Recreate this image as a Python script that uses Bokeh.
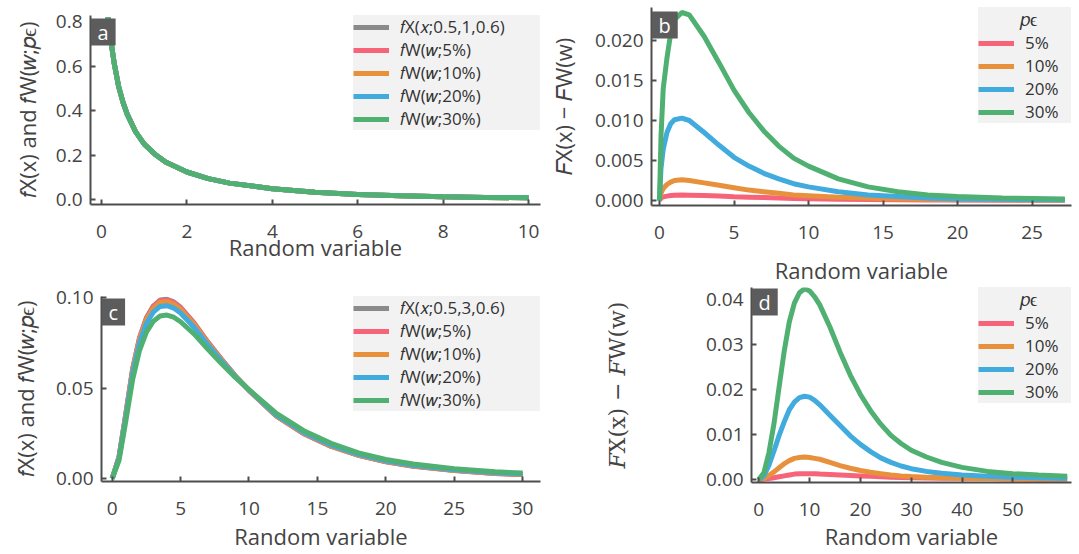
from bokeh.plotting import figure
from bokeh.layouts import row, column
from bokeh.models import Range1d, FixedTicker, PrintfTickFormatter, Label
from bokeh.embed import file_html
from bokeh.resources import INLINE

# ---------------- data ----------------
# panel a : densities, parameters (0.5, 1, 0.6)
a_x = [0.15, 0.2, 0.3, 0.4, 0.5, 0.6, 0.8, 1.0, 1.25, 1.5, 2.0, 2.5, 3.0, 4.0, 5.0, 6.0, 7.0, 8.0, 9.0, 10.0]
a_fx = [0.82, 0.74, 0.61, 0.51, 0.44, 0.385, 0.305, 0.25, 0.205, 0.17, 0.125, 0.095, 0.075, 0.05, 0.034, 0.024, 0.018, 0.014, 0.011, 0.009]
a_fw5 = [0.82, 0.74, 0.61, 0.51, 0.44, 0.385, 0.305, 0.25, 0.205, 0.17, 0.125, 0.095, 0.075, 0.05, 0.034, 0.024, 0.018, 0.014, 0.011, 0.009]
a_fw10 = [0.82, 0.74, 0.61, 0.51, 0.44, 0.385, 0.305, 0.25, 0.205, 0.17, 0.125, 0.095, 0.075, 0.05, 0.034, 0.024, 0.018, 0.014, 0.011, 0.009]
a_fw20 = [0.82, 0.74, 0.61, 0.51, 0.44, 0.385, 0.305, 0.25, 0.205, 0.17, 0.125, 0.095, 0.075, 0.05, 0.034, 0.024, 0.018, 0.014, 0.011, 0.009]
a_fw30 = [0.82, 0.74, 0.61, 0.51, 0.44, 0.385, 0.305, 0.25, 0.205, 0.17, 0.125, 0.095, 0.075, 0.05, 0.034, 0.024, 0.018, 0.014, 0.011, 0.009]

# panel b : F_X - F_W, parameters (0.5, 1, 0.6)
b_x = [0, 0.1, 0.25, 0.5, 0.75, 1, 1.5, 2, 3, 4, 5, 6, 7, 8, 9, 10, 12, 14, 16, 18, 20, 23, 27.2]
b_d5 = [0, 0.0003, 0.00045, 0.00055, 0.00062, 0.00066, 0.00068, 0.00067, 0.00062, 0.00055, 0.00048, 0.00042, 0.00036, 0.0003, 0.00026, 0.00022, 0.00016, 0.00012, 0.00009, 0.00007, 0.00005, 0.00004, 0.00003]
b_d10 = [0, 0.0009, 0.0015, 0.0020, 0.0023, 0.0025, 0.0026, 0.0025, 0.0022, 0.0019, 0.0016, 0.0013, 0.0011, 0.0009, 0.0007, 0.0006, 0.0004, 0.0003, 0.0002, 0.00015, 0.0001, 0.00008, 0.00005]
b_d20 = [0, 0.004, 0.0064, 0.0085, 0.0096, 0.0101, 0.0103, 0.0100, 0.0085, 0.0069, 0.0054, 0.0043, 0.0034, 0.0027, 0.0021, 0.0017, 0.0011, 0.0007, 0.0005, 0.0003, 0.0002, 0.00015, 0.0001]
b_d30 = [0, 0.0080, 0.0140, 0.0178, 0.0209, 0.0226, 0.0235, 0.0232, 0.0205, 0.0172, 0.0138, 0.0110, 0.0087, 0.0068, 0.0053, 0.0043, 0.0027, 0.0017, 0.0011, 0.0007, 0.0005, 0.0003, 0.0002]

# panel c : densities, parameters (0.5, 3, 0.6)
c_x = [0, 0.5, 1, 1.5, 2, 2.5, 3, 3.5, 4, 4.5, 5, 6, 7, 8, 9, 10, 12, 14, 16, 18, 20, 22, 25, 28, 30]
c_fx = [0, 0.012, 0.036, 0.061, 0.078, 0.089, 0.0955, 0.0988, 0.0992, 0.0978, 0.0948, 0.0860, 0.0755, 0.0660, 0.0568, 0.0488, 0.0345, 0.0248, 0.0178, 0.0128, 0.0093, 0.0068, 0.0044, 0.0028, 0.0022]
c_fw5 = [0, 0.0119, 0.0358, 0.0607, 0.0776, 0.0886, 0.0951, 0.0984, 0.0988, 0.0974, 0.0944, 0.0857, 0.0753, 0.0659, 0.0568, 0.0488, 0.0346, 0.0249, 0.0179, 0.0129, 0.0094, 0.0069, 0.0045, 0.0028, 0.0022]
c_fw10 = [0, 0.0117, 0.0354, 0.0601, 0.0769, 0.0878, 0.0942, 0.0975, 0.0979, 0.0965, 0.0936, 0.0851, 0.0749, 0.0656, 0.0567, 0.0489, 0.0347, 0.0251, 0.0181, 0.0130, 0.0095, 0.0070, 0.0046, 0.0029, 0.0023]
c_fw20 = [0, 0.0112, 0.0344, 0.0586, 0.0752, 0.0858, 0.0921, 0.0953, 0.0957, 0.0944, 0.0916, 0.0836, 0.0739, 0.0650, 0.0565, 0.0490, 0.0351, 0.0255, 0.0185, 0.0134, 0.0098, 0.0073, 0.0048, 0.0032, 0.0025]
c_fw30 = [0, 0.010, 0.032, 0.055, 0.071, 0.081, 0.087, 0.0900, 0.0905, 0.0893, 0.0868, 0.0800, 0.0715, 0.0635, 0.0560, 0.0492, 0.0360, 0.0265, 0.0195, 0.0142, 0.0105, 0.0080, 0.0054, 0.0037, 0.0030]

# panel d : F_X - F_W, parameters (0.5, 3, 0.6)
d_x = [0, 1, 2, 3, 4, 5, 6, 7, 8, 9, 10, 11, 12, 14, 16, 18, 20, 22, 24, 26, 28, 30, 33, 36, 40, 45, 50, 55, 60.7]
d_d5 = [0, 0.0001, 0.0002, 0.0004, 0.0006, 0.0008, 0.0010, 0.0012, 0.0013, 0.0013, 0.0013, 0.0013, 0.0012, 0.0011, 0.0010, 0.0009, 0.0008, 0.0007, 0.0006, 0.0005, 0.00045, 0.0004, 0.00035, 0.0003, 0.00025, 0.0002, 0.00015, 0.0001, 0.0001]
d_d10 = [0, 0.0002, 0.0009, 0.0017, 0.0026, 0.0035, 0.0042, 0.0047, 0.0049, 0.0050, 0.0049, 0.0047, 0.0045, 0.0038, 0.0031, 0.0025, 0.0020, 0.0016, 0.0013, 0.0010, 0.0008, 0.00065, 0.0005, 0.0004, 0.0003, 0.0002, 0.00015, 0.0001, 0.0001]
d_d20 = [0, 0.0008, 0.0032, 0.0064, 0.0098, 0.0128, 0.0155, 0.0172, 0.0182, 0.0185, 0.0183, 0.0176, 0.0166, 0.0143, 0.0120, 0.0097, 0.0078, 0.0062, 0.0048, 0.0038, 0.0030, 0.0024, 0.0018, 0.0014, 0.0010, 0.0007, 0.0005, 0.0004, 0.0003]
d_d30 = [0, 0.0015, 0.0060, 0.0125, 0.0206, 0.0285, 0.0350, 0.0392, 0.0415, 0.0424, 0.0419, 0.0406, 0.0388, 0.0339, 0.0283, 0.0232, 0.0189, 0.0153, 0.0123, 0.0098, 0.0080, 0.0065, 0.0050, 0.0038, 0.0027, 0.0018, 0.0013, 0.0010, 0.0007]

# ticks and labels
a_xticks = [0, 2, 4, 6, 8, 10]
a_yticks = [0.0, 0.2, 0.4, 0.6, 0.8]
b_xticks = [0, 5, 10, 15, 20, 25]
b_yticks = [0.0, 0.005, 0.010, 0.015, 0.020]
c_xticks = [0, 5, 10, 15, 20, 25, 30]
c_yticks = [0.0, 0.05, 0.10]
d_xticks = [0, 10, 20, 30, 40, 50]
d_yticks = [0.0, 0.01, 0.02, 0.03, 0.04]
pct_labels = ["5%", "10%", "20%", "30%"]
dens_labels_a = ["𝑓X(𝑥;0.5,1,0.6)"] + ["𝑓W(𝑤;%s)" % s for s in pct_labels]
dens_labels_c = ["𝑓X(𝑥;0.5,3,0.6)"] + ["𝑓W(𝑤;%s)" % s for s in pct_labels]
x_label = "Random variable"
y_label_dens = "𝑓X(x) and 𝑓W(𝑤;𝑝ϵ)"
y_label_diff = "𝐹X(x) − 𝐹W(w)"
legend_title = "𝑝ϵ"

# ---------------- styling ----------------
FONT = "Open Sans"
TXT = "#444444"
AX = "#4d4d4d"
GRAY, PINK, ORANGE, BLUE, GREEN = "#8a8a8a", "#f7647a", "#e8913d", "#40abdc", "#4fb072"
DENS_COLORS = [GRAY, PINK, ORANGE, BLUE, GREEN]
DIFF_COLORS = [PINK, ORANGE, BLUE, GREEN]


def make_fig(w, h, bl, br, bt, bb, xr, yr, xticks, yticks, yfmt, ylabel, ystand, xstand,
             ylabel_font=FONT):
    p = figure(width=w, height=h, x_range=Range1d(*xr), y_range=Range1d(*yr), title=None,
               output_backend="svg", toolbar_location=None,
               min_border_left=bl, min_border_right=br, min_border_top=bt, min_border_bottom=bb)
    p.outline_line_color = None
    p.xgrid.visible = False
    p.ygrid.visible = False
    for ax in (p.xaxis[0], p.yaxis[0]):
        ax.axis_line_color = AX
        ax.axis_line_width = 2
        ax.major_tick_line_color = AX
        ax.major_tick_line_width = 2
        ax.major_tick_in = 5
        ax.major_tick_out = 0
        ax.minor_tick_line_color = None
        ax.major_label_text_font = FONT
        ax.major_label_text_font_size = "19px"
        ax.major_label_text_color = TXT
        ax.axis_label_text_font_style = "normal"
        ax.axis_label_text_color = TXT
    p.xaxis.ticker = FixedTicker(ticks=xticks)
    p.yaxis.ticker = FixedTicker(ticks=yticks)
    p.xaxis.formatter = PrintfTickFormatter(format="%d")
    p.yaxis.formatter = PrintfTickFormatter(format=yfmt)
    p.xaxis.major_label_standoff = 20
    p.yaxis.major_label_standoff = 8
    p.yaxis.axis_label = ylabel
    p.yaxis.axis_label_text_font = ylabel_font
    p.yaxis.axis_label_text_font_size = "22px"
    p.yaxis.axis_label_standoff = ystand
    p.xaxis.axis_label = x_label
    p.xaxis.axis_label_text_font = FONT
    p.xaxis.axis_label_text_font_size = "22px"
    p.xaxis.axis_label_standoff = xstand
    return p


def add_tag(p, fh, letter, down):
    p.add_layout(Label(x=0, y=fh - down, x_units="screen", y_units="screen", text=letter,
                       text_font=FONT, text_font_size="20px", text_color="white",
                       background_fill_color="#5c5c5c", background_fill_alpha=1.0,
                       text_align="left", text_baseline="top", padding=dict(x=7, y=0)))


def style_legend(p, label_width, title=None):
    lg = p.legend[0]
    lg.location = "top_right"
    lg.background_fill_color = "#f2f2f2"
    lg.background_fill_alpha = 1.0
    lg.border_line_color = None
    lg.label_text_font = FONT
    lg.label_text_font_size = "17px"
    lg.label_text_color = "#333333"
    lg.glyph_width = 36
    lg.glyph_height = 18
    lg.label_height = 18
    lg.label_width = label_width
    lg.label_standoff = 11
    lg.spacing = 0
    lg.padding = 3
    lg.margin = 0
    if title is not None:
        lg.title = title
        lg.title_text_font = FONT
        lg.title_text_font_size = "18px"
        lg.title_text_font_style = "normal"
        lg.title_text_color = "#333333"
        lg.title_standoff = 0


# ---------------- panel a ----------------
pa = make_fig(545, 279, 90, 5, 15, 75, (-0.258, 10.28), (-0.021, 0.828),
              a_xticks, a_yticks, "%.1f", y_label_dens, 11, -9)
for ys, col, lab in zip([a_fx, a_fw5, a_fw10, a_fw20, a_fw30], DENS_COLORS, dens_labels_a):
    pa.line(a_x, ys, line_width=5, line_color=col, legend_label=lab)
style_legend(pa, 140)
add_tag(pa, 189, "a", 3)

# ---------------- panel b ----------------
pb = make_fig(534, 287, 106, 8, 7, 82, (-0.537, 27.65), (-0.000625, 0.024125),
              b_xticks, b_yticks, "%.3f", y_label_diff, 14, 13)
for ys, col, lab in zip([b_d5, b_d10, b_d20, b_d30], DIFF_COLORS, pct_labels):
    pb.line(b_x, ys, line_width=5, line_color=col, legend_label=lab)
style_legend(pb, 46, "\u00a0" * 9 + legend_title)
add_tag(pb, 198, "b", 4)

# ---------------- panel c ----------------
pc = make_fig(545, 275, 101, 5, 17, 73, (-0.782, 31.31), (-0.00166, 0.10078),
              c_xticks, c_yticks, "%.2f", y_label_dens, 13, 3)
for ys, col, lab in zip([c_fx, c_fw5, c_fw10, c_fw20, c_fw30], DENS_COLORS, dens_labels_c):
    pc.line(c_x, ys, line_width=5, line_color=col, legend_label=lab)
style_legend(pc, 140)
add_tag(pc, 185, "c", 2)

# ---------------- panel d ----------------
pd = make_fig(534, 267, 206, 8, 0, 72, (-1.437, 61.55), (-0.000667, 0.04267),
              d_xticks, d_yticks, "%.2f", y_label_diff, 73, 2, ylabel_font="DejaVu Serif")
for ys, col, lab in zip([d_d5, d_d10, d_d20, d_d30], DIFF_COLORS, pct_labels):
    pd.line(d_x, ys, line_width=5, line_color=col, legend_label=lab)
style_legend(pd, 46, "\u00a0" * 9 + legend_title)
add_tag(pd, 195, "d", 1)

left_col = column(column(pa), column(pc))
right_col = column(column(pb), column(pd))
layout = row(left_col, right_col)
open("out.html", "w").write(file_html(layout, INLINE))
